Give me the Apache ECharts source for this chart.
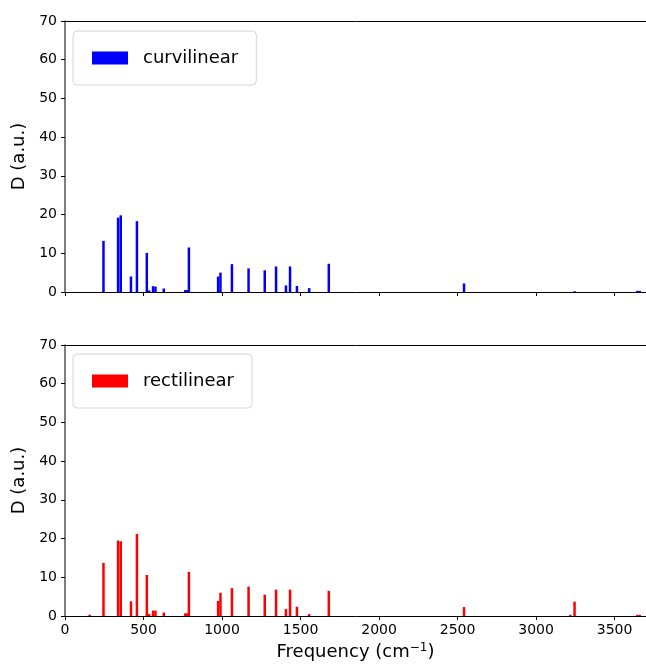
<!DOCTYPE html>
<html>
<head>
<meta charset="UTF-8">
<title>D spectrum</title>
<script src="https://cdn.jsdelivr.net/npm/echarts@6/dist/echarts.min.js"></script>
<style>
  html, body { margin: 0; padding: 0; background: #fff; overflow: hidden; }
  #main { width: 646px; height: 669px; }
</style>
</head>
<body>
<div id="main"></div>
<script>
// frequencies (cm-1) shared by both panels
var freqs = [157, 245, 338, 355, 420, 458, 521, 536, 561, 576, 629, 766, 779, 789,
             975, 990, 1063, 1169, 1272, 1344, 1407, 1433, 1477, 1555, 1680,
             2541, 3218, 3245, 3645, 3660];
// D values, curvilinear
var curvValues = [0, 13.2, 19.2, 19.8, 4.0, 18.3, 10.1, 0.4, 1.5, 1.4, 0.9, 0.5, 0.5, 11.5,
                  4.0, 5.0, 7.2, 6.1, 5.6, 6.6, 1.7, 6.6, 1.55, 1.0, 7.3,
                  2.2, 0, 0.2, 0.3, 0.3];
// D values, rectilinear
var rectValues = [0.35, 13.7, 19.5, 19.3, 3.8, 21.2, 10.6, 0.5, 1.4, 1.4, 0.9, 0.7, 0.7, 11.4,
                  3.9, 6.0, 7.2, 7.6, 5.5, 6.8, 1.8, 6.8, 2.4, 0.5, 6.5,
                  2.3, 0.3, 3.7, 0.3, 0.3];

function pairs(vals) {
    var out = [];
    for (var i = 0; i < freqs.length; i++) {
        if (vals[i] > 0) out.push([freqs[i], vals[i]]);
    }
    return out;
}

var font = 'DejaVu Sans';
var myChart = echarts.init(document.getElementById('main'));

function xAxisFor(idx, withLabels) {
    return {
        type: 'value',
        gridIndex: idx,
        position: 'bottom',
        min: 0,
        max: 3700,
        interval: 500,
        splitLine: { show: false },
        axisLine: { show: true, onZero: false, lineStyle: { color: '#000', width: 1 } },
        axisTick: { show: true, length: 4, inside: false, lineStyle: { color: '#000' } },
        axisLabel: {
            show: withLabels, color: '#000', fontSize: 14, fontFamily: font,
            margin: 7, showMaxLabel: false,
            formatter: function (v) { return String(v); }
        },
        name: withLabels ? 'Frequency (cm{sup|\u22121})' : '',
        nameLocation: 'middle',
        nameGap: 26,
        nameTextStyle: {
            color: '#000', fontSize: 18, fontFamily: font,
            rich: { sup: { fontSize: 12, fontFamily: font, color: '#000', verticalAlign: 'top', padding: [0, 0, 8, 0] } }
        }
    };
}

// top spine only
function topSpine(idx) {
    return {
        type: 'value',
        gridIndex: idx,
        position: 'top',
        min: 0,
        max: 3700,
        splitLine: { show: false },
        axisLine: { show: true, onZero: false, lineStyle: { color: '#000', width: 1 } },
        axisTick: { show: false },
        axisLabel: { show: false }
    };
}

function yAxisFor(idx) {
    return {
        type: 'value',
        gridIndex: idx,
        min: 0,
        max: 70,
        interval: 10,
        splitLine: { show: false },
        axisLine: { show: true, onZero: false, lineStyle: { color: '#555', width: 1.5 } },
        axisTick: { show: true, length: 4, lineStyle: { color: '#000' } },
        axisLabel: { color: '#000', fontSize: 14, fontFamily: font, margin: 8 },
        name: 'D (a.u.)',
        nameLocation: 'middle',
        nameRotate: 90,
        nameGap: 31,
        nameTextStyle: { color: '#000', fontSize: 18, fontFamily: font }
    };
}

function legendFor(name, top) {
    return {
        data: [name],
        left: 73,
        top: top,
        orient: 'vertical',
        icon: 'rect',
        itemWidth: 36,
        itemHeight: 13,
        padding: [18, 18, 18, 19],
        backgroundColor: '#fff',
        borderColor: '#d6d6d6',
        borderWidth: 1,
        borderRadius: 4,
        selectedMode: false,
        textStyle: { color: '#000', fontSize: 18, fontFamily: font, padding: [0, 0, 0, 10] }
    };
}

var option = {
    animation: false,
    backgroundColor: '#fff',
    grid: [
        { left: 65, top: 21, width: 587, height: 271 },
        { left: 65, top: 345, width: 587, height: 271 }
    ],
    legend: [legendFor('curvilinear', 31), legendFor('rectilinear', 354)],
    xAxis: [xAxisFor(0, false), xAxisFor(1, true), topSpine(0), topSpine(1)],
    yAxis: [yAxisFor(0), yAxisFor(1)],
    series: [
        {
            name: 'curvilinear',
            type: 'bar',
            xAxisIndex: 0,
            yAxisIndex: 0,
            barWidth: 2.5,
            itemStyle: { color: '#0000ff' },
            data: pairs(curvValues)
        },
        {
            name: 'rectilinear',
            type: 'bar',
            xAxisIndex: 1,
            yAxisIndex: 1,
            barWidth: 2.5,
            itemStyle: { color: '#ff0000' },
            data: pairs(rectValues)
        }
    ]
};

myChart.setOption(option);
</script>
</body>
</html>
